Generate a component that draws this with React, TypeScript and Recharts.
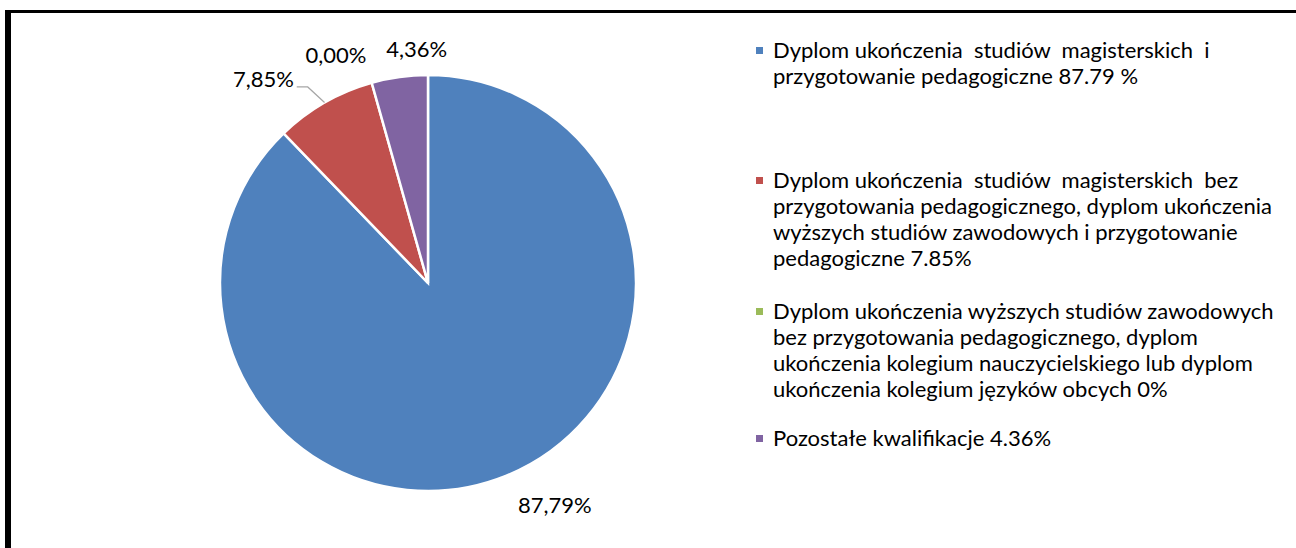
import React from 'react';
import { PieChart, Pie, Cell, Legend } from 'recharts';

const categories = [
  'Dyplom ukończenia  studiów  magisterskich  i przygotowanie pedagogiczne 87.79 %',
  'Dyplom ukończenia  studiów  magisterskich  bez przygotowania pedagogicznego, dyplom ukończenia wyższych studiów zawodowych i przygotowanie pedagogiczne 7.85%',
  'Dyplom ukończenia wyższych studiów zawodowych bez przygotowania pedagogicznego, dyplom ukończenia kolegium nauczycielskiego lub dyplom ukończenia kolegium języków obcych 0%',
  'Pozostałe kwalifikacje 4.36%',
];
const values = [87.79, 7.85, 0, 4.36];
const valueLabels = ['87,79%', '7,85%', '0,00%', '4,36%'];
const legendLines = [
  ['Dyplom ukończenia  studiów  magisterskich  i', 'przygotowanie pedagogiczne 87.79 %'],
  [
    'Dyplom ukończenia  studiów  magisterskich  bez',
    'przygotowania pedagogicznego, dyplom ukończenia',
    'wyższych studiów zawodowych i przygotowanie',
    'pedagogiczne 7.85%',
  ],
  [
    'Dyplom ukończenia wyższych studiów zawodowych',
    'bez przygotowania pedagogicznego, dyplom',
    'ukończenia kolegium nauczycielskiego lub dyplom',
    'ukończenia kolegium języków obcych 0%',
  ],
  ['Pozostałe kwalifikacje 4.36%'],
];
const colors = ['#4F81BD', '#C0504D', '#9BBB59', '#8064A2'];

const data = categories.map((name, i) => ({ name, value: values[i] }));

const FONT = 'Lato, "Open Sans", sans-serif';
const FS = 22;
const RAD = Math.PI / 180;
const labelShift = [6.9, 10.2, 7.0, -5.0];
const labelGap = [54.7, 47.9, 30.5, 18.3];
const itemHeights = [130, 131, 127, 26];

const renderLabel = (props: any) => {
  const { cx, cy, midAngle, outerRadius, index } = props;
  const a = (midAngle + labelShift[index]) * RAD;
  const r = outerRadius + labelGap[index];
  const x = cx + r * Math.cos(a);
  const y = cy - r * Math.sin(a);
  return (
    <text key={`l${index}`} x={x} y={y} textAnchor="middle" fill="#000" fontFamily={FONT} fontSize={FS}>
      {valueLabels[index]}
    </text>
  );
};

const renderLabelLine = (props: any) => {
  const { cx, cy, midAngle, outerRadius, index } = props;
  if (index !== 1) return <g key={`ll${index}`} />;
  const a0 = midAngle * RAD;
  const x0 = cx + outerRadius * Math.cos(a0);
  const y0 = cy - outerRadius * Math.sin(a0);
  const a1 = (midAngle + 1.7) * RAD;
  const r1 = outerRadius + 22;
  const x1 = cx + r1 * Math.cos(a1);
  const y1 = cy - r1 * Math.sin(a1);
  return (
    <path
      key={`ll${index}`}
      d={`M${x0},${y0}L${x1},${y1}L${x1 - 11},${y1}`}
      stroke="#A6A6A6"
      strokeWidth={1.2}
      fill="none"
    />
  );
};

const renderLegend = () => (
  <div style={{ fontFamily: FONT, fontSize: FS, color: '#000', lineHeight: '26px' }}>
    {legendLines.map((lines, i) => (
      <div key={i} style={{ position: 'relative', height: itemHeights[i] }}>
        <div
          style={{
            position: 'absolute',
            left: 16,
            top: 10,
            width: 7,
            height: 7,
            background: colors[i],
          }}
        />
        <div style={{ position: 'absolute', left: 33, top: 0, whiteSpace: 'pre' }}>
          {lines.map((ln, j) => (
            <div key={j}>{ln}</div>
          ))}
        </div>
      </div>
    ))}
  </div>
);

export default function App() {
  return (
    <div style={{ position: 'fixed', left: 0, top: 0, width: 1296, height: 548, background: '#fff', overflow: 'hidden' }}>
      <div style={{ position: 'absolute', left: 5, top: 10, width: 1291, height: 3, background: '#000' }} />
      <div style={{ position: 'absolute', left: 5, top: 10, width: 6, height: 538, background: '#000' }} />
      <div style={{ position: 'absolute', left: 0, top: 0 }}>
        <PieChart width={1296} height={548} margin={{ top: 0, right: 0, bottom: 0, left: 0 }}>
          <Pie
            data={data}
            dataKey="value"
            nameKey="name"
            cx={428}
            cy={283}
            outerRadius={208}
            startAngle={90}
            endAngle={-270}
            stroke="#fff"
            strokeWidth={2.5}
            isAnimationActive={false}
            label={renderLabel}
            labelLine={renderLabelLine}
          >
            {data.map((d, i) => (
              <Cell key={d.name} fill={colors[i]} />
            ))}
          </Pie>
          <Legend
            content={renderLegend}
            wrapperStyle={{ position: 'absolute', left: 740, top: 36.5, width: 550, margin: 0 }}
          />
        </PieChart>
      </div>
    </div>
  );
}
